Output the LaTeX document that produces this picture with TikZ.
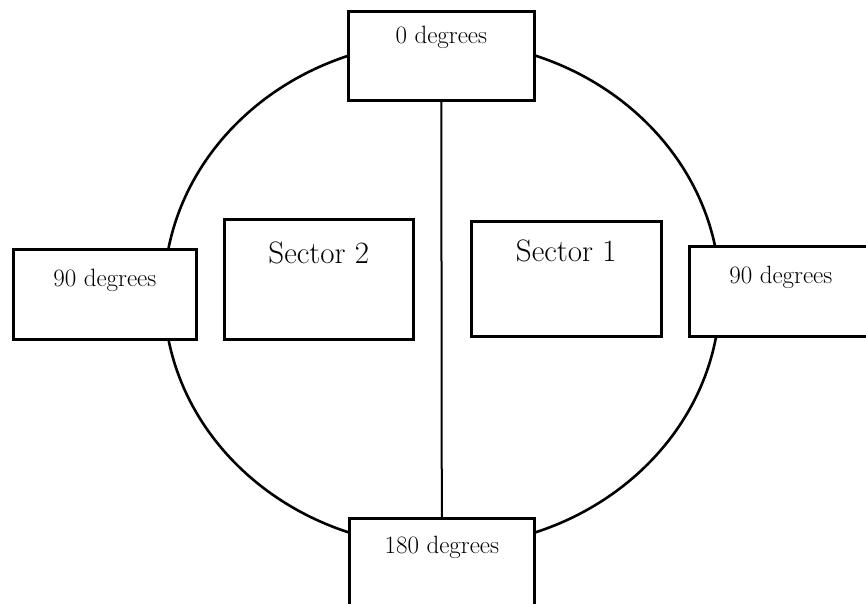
\documentclass[tikz,border=0pt]{standalone}
\usepackage{tikz}

\begin{document}
\begin{tikzpicture}[
        x=1pt, y=-1pt,
        edge/.style={draw, line width=2.6pt},
        degbox/.style={draw, fill=white, line width=2.6pt, rectangle, anchor=north west,
            inner sep=0pt, font=\fontsize{25}{28}\selectfont},
        secbox/.style={degbox, font=\fontsize{31}{34}\selectfont}
        ]
    \useasboundingbox (0,0) rectangle (866,603);
    \clip (0,0) rectangle (866,603);
    \draw[edge] (442,294) ellipse [x radius=278, y radius=253];
    % quadrant boxes
    \node[degbox, minimum width=186pt, text height=32pt, text depth=57pt] (top) at (347,10) {0 degrees};
    \node[degbox, minimum width=185pt, text height=35pt, text depth=54pt] (bottom) at (348,517) {180 degrees};
    \node[degbox, minimum width=183pt, text height=37pt, text depth=53pt] (left) at (12,248) {90 degrees};
    \node[degbox, minimum width=183pt, text height=37pt, text depth=53pt] (right) at (688,245) {90 degrees};
    % sectors
    \node[secbox, minimum width=189pt, text height=44pt, text depth=76pt] (sec2) at (223,218) {Sector 2};
    \node[secbox, minimum width=190pt, text height=40pt, text depth=75pt] (sec1) at (470,220) {Sector 1};
    \draw[line width=2pt] (top.south) -- (bottom.north);
\end{tikzpicture}
\end{document}
